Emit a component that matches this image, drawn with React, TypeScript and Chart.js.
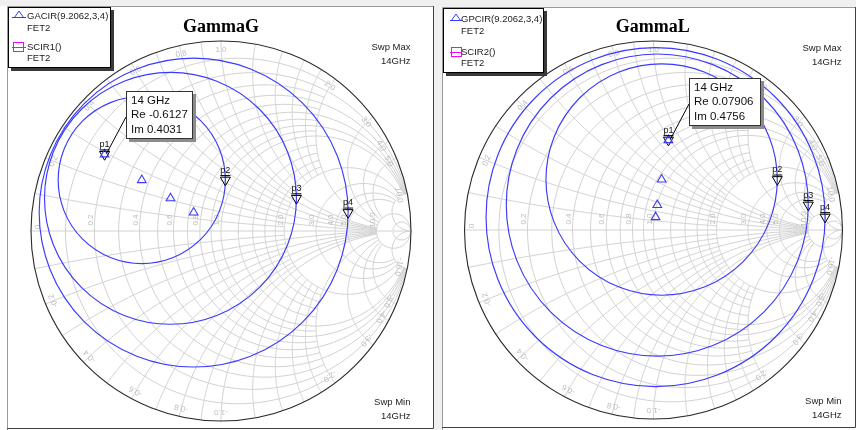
import React, { useEffect, useRef } from "react";
import { Chart, registerables } from "chart.js";

Chart.register(...registerables);

const FONT = "'Liberation Sans', Arial, sans-serif";

// ---------------- data ----------------
const SWEEP_FREQ = "14GHz";
const MARKER_NAMES = ["p1", "p2", "p3", "p4"];

// GammaG panel
const G_TITLE = "GammaG";
const G_LEGEND = ["GACIR(9.2062,3,4)", "SCIR1()"];
const G_LEGEND_SUB = "FET2";
const G_CIRCLE_RE = [-0.6127, -0.417, -0.266, -0.144];
const G_CIRCLE_IM = [0.4031, 0.268, 0.172, 0.097];
const G_CIRCLE_RAD = [0, 0.44, 0.663, 0.813];
const G_MARKER_RE = [-0.6127, 0.023, 0.397, 0.669];
const G_MARKER_IM = [0.4031, 0.268, 0.172, 0.097];
const G_TIP = ["14 GHz", "Re -0.6127", "Im 0.4031"];

// GammaL panel
const L_TITLE = "GammaL";
const L_LEGEND = ["GPCIR(9.2062,3,4)", "SCIR2()"];
const L_LEGEND_SUB = "FET2";
const L_CIRCLE_RE = [0.07906, 0.043, 0.02, 0.011];
const L_CIRCLE_IM = [0.4756, 0.267, 0.132, 0.068];
const L_CIRCLE_RAD = [0, 0.612, 0.799, 0.897];
const L_MARKER_RE = [0.07906, 0.655, 0.819, 0.908];
const L_MARKER_IM = [0.4756, 0.267, 0.132, 0.068];
const L_TIP = ["14 GHz", "Re 0.07906", "Im 0.4756"];

// Smith grid values
const SMITH_MAJOR = [0.2, 0.4, 0.6, 0.8, 1, 2, 3, 4, 5, 10];
const SMITH_MINOR = [0.1, 0.3, 0.5, 0.7, 0.9, 1.2, 1.4, 1.6, 1.8];
const SMITH_FAR = [20];

// ---------------- styles / layout ----------------
const BLUE = "#3a3aff";
const GRID = "#d2d2d2";
const GRID_TXT = "#bcbcbc";

type PanelCfg = {
  left: number;
  width: number;
  cx: number;
  cy: number;
  R: number;
  title: string;
  titleX: number;
  legend: string[];
  legendSub: string;
  circRe: number[];
  circIm: number[];
  circRad: number[];
  markRe: number[];
  markIm: number[];
  tip: string[];
  tipBox: [number, number, number, number];
  legBox: [number, number, number, number];
  legRows: number[];
  legSymX: [number, number];
  legTextX: number;
  swpX: number;
  swpY: number[];
  frame: { x0: number; y0: number; x1: number; y1: number };
};

const PANELS: PanelCfg[] = [
  {
    left: 0,
    width: 437,
    cx: 221,
    cy: 231,
    R: 190,
    title: G_TITLE,
    titleX: 221,
    legend: G_LEGEND,
    legendSub: G_LEGEND_SUB,
    circRe: G_CIRCLE_RE,
    circIm: G_CIRCLE_IM,
    circRad: G_CIRCLE_RAD,
    markRe: G_MARKER_RE,
    markIm: G_MARKER_IM,
    tip: G_TIP,
    tipBox: [126, 91, 67, 48],
    legBox: [8, 7, 103, 61],
    legRows: [16, 28, 47, 58],
    legSymX: [12, 26],
    legTextX: 27,
    swpX: 410.5,
    swpY: [47, 61, 402, 416],
    frame: { x0: 7, y0: 6, x1: 434, y1: 429 },
  },
  {
    left: 437,
    width: 419,
    cx: 216.5,
    cy: 230,
    R: 189,
    title: L_TITLE,
    titleX: 215.7,
    legend: L_LEGEND,
    legendSub: L_LEGEND_SUB,
    circRe: L_CIRCLE_RE,
    circIm: L_CIRCLE_IM,
    circRad: L_CIRCLE_RAD,
    markRe: L_MARKER_RE,
    markIm: L_MARKER_IM,
    tip: L_TIP,
    tipBox: [252, 78, 72, 48],
    legBox: [6, 8, 101, 65],
    legRows: [19, 31, 52, 63],
    legSymX: [13, 25],
    legTextX: 24,
    swpX: 404.5,
    swpY: [48, 62, 401, 415],
    frame: { x0: 5, y0: 7, x1: 419, y1: 428 },
  },
];

// ---------------- helpers ----------------
function gam(r: number, x: number): [number, number] {
  const d = (r + 1) * (r + 1) + x * x;
  if (!isFinite(d)) return [1, 0];
  return [(r * r + x * x - 1) / d, (2 * x) / d];
}

function strokePts(ctx: CanvasRenderingContext2D, pts: [number, number][]) {
  ctx.beginPath();
  pts.forEach((p, i) => (i === 0 ? ctx.moveTo(p[0], p[1]) : ctx.lineTo(p[0], p[1])));
  ctx.stroke();
}

function makePlugin(cfg: PanelCfg) {
  return {
    id: "smith" + cfg.left,
    beforeDraw(chart: any) {
      const ctx = chart.ctx as CanvasRenderingContext2D;
      const W = chart.width;
      const H = chart.height;
      ctx.save();
      ctx.fillStyle = "#f0f0f0";
      ctx.fillRect(0, 0, W, H);
      const f = cfg.frame;
      ctx.fillStyle = "#ffffff";
      if (cfg.left === 0) ctx.fillRect(0, f.y0, f.x1, H - f.y0);
      else ctx.fillRect(f.x0, f.y0, W - f.x0, H - f.y0);
      ctx.lineWidth = 1;
      ctx.strokeStyle = "#9a9a9a";
      ctx.beginPath();
      ctx.moveTo(f.x0 + 0.5, H);
      ctx.lineTo(f.x0 + 0.5, f.y0 + 0.5);
      ctx.lineTo(f.x1, f.y0 + 0.5);
      ctx.stroke();
      ctx.strokeStyle = "#404040";
      ctx.beginPath();
      ctx.moveTo(f.x1 - 0.5, f.y0);
      ctx.lineTo(f.x1 - 0.5, f.y1 - 0.5);
      ctx.lineTo(f.x0, f.y1 - 0.5);
      ctx.stroke();
      ctx.restore();
    },
    beforeDatasetsDraw(chart: any) {
      const ctx = chart.ctx as CanvasRenderingContext2D;
      const xs = chart.scales.x;
      const ys = chart.scales.y;
      const P = (p: [number, number]): [number, number] => [xs.getPixelForValue(p[0]), ys.getPixelForValue(p[1])];
      const unit = xs.getPixelForValue(1) - xs.getPixelForValue(0);
      const ox = xs.getPixelForValue(0);
      const oy = ys.getPixelForValue(0);
      ctx.save();
      ctx.lineWidth = 1;
      ctx.strokeStyle = GRID;
      const rCircle = (r: number, xmax: number) => {
        const a = Math.atan(xmax);
        const pts: [number, number][] = [];
        const N = 180;
        for (let i = 0; i <= N; i++) {
          const phi = -a + (2 * a * i) / N;
          pts.push(P(gam(r, Math.tan(phi))));
        }
        strokePts(ctx, pts);
      };
      const xArc = (x: number, rmax: number) => {
        const a = Math.atan(rmax);
        for (const s of [1, -1]) {
          const pts: [number, number][] = [];
          const N = 140;
          for (let i = 0; i <= N; i++) {
            const psi = (a * i) / N;
            pts.push(P(gam(Math.tan(psi), s * x)));
          }
          strokePts(ctx, pts);
        }
      };
      SMITH_MINOR.forEach((v) => {
        rCircle(v, 2);
        xArc(v, 2);
      });
      SMITH_MAJOR.forEach((v) => {
        const lim = v >= 10 ? 1e6 : 10;
        rCircle(v, lim);
        xArc(v, lim);
      });
      SMITH_FAR.forEach((v) => {
        rCircle(v, 1e6);
      });
      // real axis
      ctx.beginPath();
      ctx.moveTo(xs.getPixelForValue(-1), oy);
      ctx.lineTo(xs.getPixelForValue(1), oy);
      ctx.stroke();
      // labels
      ctx.fillStyle = GRID_TXT;
      ctx.font = `8px ${FONT}`;
      ctx.textAlign = "center";
      ctx.textBaseline = "middle";
      const rl = [0, ...SMITH_MAJOR];
      rl.forEach((r) => {
        const g = (r - 1) / (r + 1);
        const px = ox + g * unit + (r === 0 ? 7 : -4);
        const py = oy - (r === 0 ? 4 : 11);
        ctx.save();
        ctx.translate(px, py);
        ctx.rotate(-Math.PI / 2);
        ctx.fillText(r === 0 ? "0" : r.toFixed(1), 0, 0);
        ctx.restore();
      });
      SMITH_MAJOR.forEach((x) => {
        for (const s of [1, -1]) {
          const th = s * (Math.PI - 2 * Math.atan(x));
          const rr = 0.955;
          const px = ox + Math.cos(th) * rr * unit;
          const py = oy - Math.sin(th) * rr * unit;
          ctx.save();
          ctx.translate(px, py);
          ctx.rotate(Math.PI / 2 - th);
          ctx.fillText((s < 0 ? "-" : "") + x.toFixed(1), 0, 0);
          ctx.restore();
        }
      });
      // outer circle
      ctx.strokeStyle = "#2a2a2a";
      ctx.lineWidth = 1.1;
      ctx.beginPath();
      ctx.arc(ox, oy, unit, 0, Math.PI * 2);
      ctx.stroke();
      // gain circles
      ctx.strokeStyle = BLUE;
      ctx.lineWidth = 1.15;
      cfg.circRad.forEach((rad, i) => {
        if (rad <= 0) return;
        ctx.beginPath();
        ctx.arc(xs.getPixelForValue(cfg.circRe[i]), ys.getPixelForValue(cfg.circIm[i]), rad * unit, 0, Math.PI * 2);
        ctx.stroke();
      });
      ctx.restore();
    },
    afterDatasetsDraw(chart: any) {
      const ctx = chart.ctx as CanvasRenderingContext2D;
      const xs = chart.scales.x;
      const ys = chart.scales.y;
      ctx.save();
      // marker bars and labels
      ctx.strokeStyle = "#000";
      ctx.fillStyle = "#111";
      ctx.lineWidth = 1;
      ctx.font = `9px ${FONT}`;
      ctx.textAlign = "center";
      ctx.textBaseline = "middle";
      cfg.markRe.forEach((re, i) => {
        const px = xs.getPixelForValue(re);
        const py = ys.getPixelForValue(cfg.markIm[i]);
        ctx.beginPath();
        ctx.moveTo(px - 5, py - 4.5);
        ctx.lineTo(px + 5, py - 4.5);
        ctx.stroke();
        ctx.fillText(MARKER_NAMES[i], px, py - 10);
      });
      // tooltip
      const [bx, by, bw, bh] = cfg.tipBox;
      const p1x = xs.getPixelForValue(cfg.markRe[0]);
      const p1y = ys.getPixelForValue(cfg.markIm[0]);
      ctx.strokeStyle = "#000";
      ctx.beginPath();
      ctx.moveTo(bx, by + 26);
      ctx.lineTo(p1x + 2, p1y - 1);
      ctx.stroke();
      ctx.fillStyle = "#8c8c8c";
      ctx.fillRect(bx + 3, by + 3, bw, bh);
      ctx.fillStyle = "#fff";
      ctx.fillRect(bx, by, bw, bh);
      ctx.strokeStyle = "#333";
      ctx.strokeRect(bx + 0.5, by + 0.5, bw - 1, bh - 1);
      ctx.fillStyle = "#111";
      ctx.font = `11.5px ${FONT}`;
      ctx.textAlign = "left";
      cfg.tip.forEach((t, i) => ctx.fillText(t, bx + 5, by + 10 + i * 14.2));
      // legend
      const [lx, ly, lw, lh] = cfg.legBox;
      ctx.fillStyle = "#3a3a3a";
      ctx.fillRect(lx + 3, ly + 3, lw, lh);
      ctx.fillStyle = "#fff";
      ctx.fillRect(lx, ly, lw, lh);
      ctx.strokeStyle = "#000";
      ctx.strokeRect(lx + 0.5, ly + 0.5, lw - 1, lh - 1);
      const [sx0, sx1] = cfg.legSymX;
      const sm = (sx0 + sx1) / 2;
      const r = cfg.legRows;
      ctx.strokeStyle = BLUE;
      ctx.lineWidth = 1;
      ctx.beginPath();
      ctx.moveTo(sx0, r[0] + 1.5);
      ctx.lineTo(sx1, r[0] + 1.5);
      ctx.stroke();
      ctx.beginPath();
      ctx.moveTo(sm, r[0] - 5);
      ctx.lineTo(sm + 4.5, r[0] + 1.5);
      ctx.lineTo(sm - 4.5, r[0] + 1.5);
      ctx.closePath();
      ctx.stroke();
      ctx.strokeStyle = "#ff00ff";
      ctx.strokeRect(sx0 + 1.5, r[2] - 4.5, 10, 9);
      ctx.beginPath();
      ctx.moveTo(sx0, r[2] + 0.5);
      ctx.lineTo(sx1, r[2] + 0.5);
      ctx.stroke();
      ctx.fillStyle = "#222";
      ctx.font = `9.5px ${FONT}`;
      ctx.fillText(cfg.legend[0], cfg.legTextX, r[0]);
      ctx.fillText(cfg.legendSub, cfg.legTextX, r[1]);
      ctx.fillText(cfg.legend[1], cfg.legTextX, r[2]);
      ctx.fillText(cfg.legendSub, cfg.legTextX, r[3]);
      // title
      ctx.fillStyle = "#000";
      ctx.font = `bold 18px 'Liberation Serif', 'Times New Roman', serif`;
      ctx.textAlign = "center";
      ctx.fillText(cfg.title, cfg.titleX, 27);
      // sweep text
      ctx.fillStyle = "#222";
      ctx.font = `9.5px ${FONT}`;
      ctx.textAlign = "right";
      ctx.fillText("Swp Max", cfg.swpX, cfg.swpY[0]);
      ctx.fillText(SWEEP_FREQ, cfg.swpX, cfg.swpY[1]);
      ctx.fillText("Swp Min", cfg.swpX, cfg.swpY[2]);
      ctx.fillText(SWEEP_FREQ, cfg.swpX, cfg.swpY[3]);
      ctx.restore();
    },
  };
}

function SmithPanel({ cfg }: { cfg: PanelCfg }) {
  const ref = useRef<HTMLCanvasElement>(null);
  useEffect(() => {
    const H = 430;
    const chart = new Chart(ref.current as HTMLCanvasElement, {
      type: "scatter",
      data: {
        datasets: [
          {
            label: cfg.legend[0],
            data: cfg.circRe.map((re, i) => ({ x: re, y: cfg.circIm[i] })),
            pointStyle: "triangle",
            pointRadius: 5,
            pointHoverRadius: 5,
            borderColor: BLUE,
            backgroundColor: "rgba(0,0,0,0)",
            borderWidth: 1.1,
          },
          {
            label: "markers",
            data: cfg.markRe.map((re, i) => ({ x: re, y: cfg.markIm[i] })),
            pointStyle: "triangle",
            rotation: 180,
            pointRadius: 5.8,
            pointHoverRadius: 5.8,
            borderColor: "#000",
            backgroundColor: "rgba(0,0,0,0)",
            borderWidth: 1,
          } as any,
        ],
      },
      options: {
        responsive: false,
        animation: false,
        devicePixelRatio: 1,
        events: [],
        layout: {
          padding: {
            left: cfg.cx - cfg.R,
            right: cfg.width - (cfg.cx + cfg.R),
            top: cfg.cy - cfg.R,
            bottom: H - (cfg.cy + cfg.R),
          },
        },
        scales: {
          x: { type: "linear", min: -1, max: 1, display: false },
          y: { type: "linear", min: -1, max: 1, display: false },
        },
        plugins: { legend: { display: false }, tooltip: { enabled: false } },
      },
      plugins: [makePlugin(cfg)],
    });
    return () => chart.destroy();
  }, [cfg]);
  return (
    <canvas
      ref={ref}
      width={cfg.width}
      height={430}
      style={{ position: "absolute", left: cfg.left, top: 0, width: cfg.width, height: 430, display: "block" }}
    />
  );
}

export default function App() {
  return (
    <div style={{ position: "fixed", left: 0, top: 0, width: 856, height: 430, background: "#f0f0f0", overflow: "hidden" }}>
      {PANELS.map((p) => (
        <SmithPanel key={p.left} cfg={p} />
      ))}
    </div>
  );
}
